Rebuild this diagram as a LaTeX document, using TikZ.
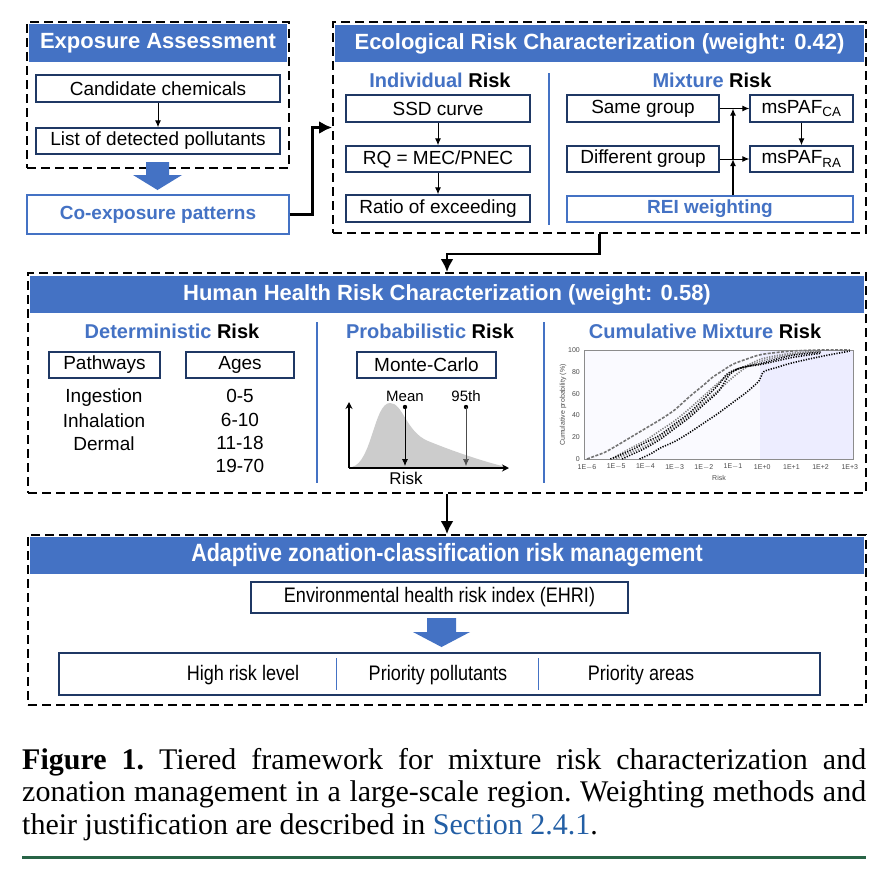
\documentclass[tikz,border=0pt]{standalone}
\usepackage{fontspec}
\setmainfont{Liberation Sans}
\newfontfamily\capfont{Liberation Serif}
\usetikzlibrary{positioning,arrows.meta}
\definecolor{hdblue}{RGB}{68,114,196}
\definecolor{navy}{RGB}{31,56,100}
\definecolor{seclink}{RGB}{35,95,165}
\definecolor{rulegreen}{RGB}{40,100,70}
\newcommand{\condensed}[1]{\scalebox{0.86}[1]{#1}}

\begin{document}
\begin{tikzpicture}[x=1pt,y=-1pt,
  grp/.style={draw, line width=1.8pt, dash pattern=on 9pt off 5pt, inner sep=0pt},
  band/.style={fill=hdblue, text=white, inner sep=0pt, font=\fontsize{22}{26}\selectfont\bfseries},
  cell/.style={draw=navy, line width=1.4pt, fill=white, inner sep=0pt, font=\fontsize{19}{22}\selectfont},
  bcell/.style={draw=hdblue, line width=1.4pt, fill=white, inner sep=0pt, text=hdblue, font=\fontsize{19}{22}\selectfont\bfseries},
  txt/.style={inner sep=0pt, font=\fontsize{19}{22}\selectfont},
  subhd/.style={inner sep=0pt, font=\fontsize{20}{24}\selectfont\bfseries},
  sep/.style={draw=hdblue, line width=1.3pt},
  arr/.style={-{Latex[length=7pt,width=6pt]}, line width=1pt},
  flow/.style={-{Latex[length=13pt,width=13pt]}, line width=2.6pt},
  tick/.style={inner sep=0pt, font=\fontsize{7}{8}\selectfont, text=black!70},
  cdf/.style={line width=1.6pt, dash pattern=on 1.2pt off 1.4pt}
]
\useasboundingbox[fill=white] (0,0) rectangle (893,875);

% exposure assessment
\node[grp, minimum width=262pt, minimum height=146pt] (expbox) at (158,95) {};
\node[band, minimum width=258pt, minimum height=38pt] (exphd) at (158,43) {Exposure Assessment};
\node[cell, minimum width=244pt, minimum height=27pt] (cand) at (158,88.5) {Candidate chemicals};
\node[cell, minimum width=244pt, minimum height=26pt] (list) at (158,141) {List of detected pollutants};
\draw[arr] (cand) -- (list);
\fill[hdblue] (146,162) -- (169,162) -- (169,175) -- (182,175) -- (157.5,190) -- (133,175) -- (146,175) -- cycle;
\node[bcell, minimum width=262pt, minimum height=39pt] (coexp) at (158,214.5) {Co-exposure patterns};

% ecological risk
\node[grp, minimum width=533pt, minimum height=211pt] (ecobox) at (599.5,127.5) {};
\node[band, minimum width=529pt, minimum height=37pt] (ecohd) at (599.5,43.5) {Ecological Risk Characterization (weight: 0.42)};
\draw[sep] (549,73) -- (549,225);
\node[subhd] (indhd) at (440,80) {\textcolor{hdblue}{Individual} Risk};
\node[cell, minimum width=184pt, minimum height=27pt] (ssd) at (438,108.5) {SSD curve};
\node[cell, minimum width=184pt, minimum height=26pt] (rq) at (438,159) {RQ = MEC/PNEC};
\node[cell, minimum width=184pt, minimum height=27pt] (ratio) at (438,208.5) {Ratio of exceeding};
\draw[arr] (ssd) -- (rq);
\draw[arr] (rq) -- (ratio);
\node[subhd] (mixhd) at (712,80) {\textcolor{hdblue}{Mixture} Risk};
\node[cell, minimum width=152pt, minimum height=27pt] (same) at (643,108.5) {Same group};
\node[cell, minimum width=152pt, minimum height=26pt] (diff) at (643,159) {Different group};
\node[cell, minimum width=103pt, minimum height=27pt] (pafca) at (801.5,108.5) {msPAF\textsubscript{CA}};
\node[cell, minimum width=103pt, minimum height=26pt] (pafra) at (801.5,159) {msPAF\textsubscript{RA}};
\node[bcell, minimum width=286pt, minimum height=26pt] (rei) at (710,209) {REI weighting};
\coordinate (j1) at (733,108.5);
\coordinate (j2) at (733,159);
\draw[arr] (same) -- (pafca);
\draw[arr] (diff) -- (pafra);
\draw[arr, line width=1.6pt] (rei.north -| j2) -- (j2);
\draw[arr, line width=1.6pt] (j2) -- (j1);
\draw[arr] (pafca) -- (pafra);
\draw[flow] (coexp.east) -- ++(23,0) |- (ecobox.west);

% human health risk
\node[grp, minimum width=838pt, minimum height=220pt] (hhbox) at (447,383) {};
\node[band, minimum width=834pt, minimum height=37pt] (hhhd) at (447,294.5) {Human Health Risk Characterization (weight: 0.58)};
\draw[flow] (ecobox.south) -- ++(0,20) -| (hhbox.north);
\draw[sep] (317,322) -- (317,483);
\draw[sep] (544,322) -- (544,483);
\node[subhd] (dethd) at (172,331) {\textcolor{hdblue}{Deterministic} Risk};
\node[cell, minimum width=111pt, minimum height=26pt] (path) at (104.5,365) {Pathways};
\node[cell, minimum width=108pt, minimum height=26pt] (ages) at (240,365) {Ages};
\foreach \t [count=\i] in {Ingestion,Inhalation,Dermal}
  \node[txt] (path\i) at (104,374.5+23.2*\i) {\t};
\foreach \t [count=\i] in {0-5,6-10,11-18,19-70}
  \node[txt] (age\i) at (240,373+23.3*\i) {\t};
\node[subhd] (probhd) at (430,331) {\textcolor{hdblue}{Probabilistic} Risk};
\node[cell, minimum width=139pt, minimum height=26pt] (mc) at (426.5,365) {Monte-Carlo};
\fill[black!20] (352,467) .. controls (372,462) and (374,403) .. (390,403)
  .. controls (403,403) and (406,432) .. (428,441) .. controls (455,452) and (482,461) .. (506,467) -- cycle;
\coordinate (orig) at (349,468);
\draw[-{Stealth[length=7pt,width=7pt]}, line width=1.3pt] (orig) -- (349,402);
\draw[-{Stealth[length=7pt,width=7pt]}, line width=1.3pt] (orig) -- (509,468);
\node[inner sep=0pt, font=\fontsize{15}{17}\selectfont] (mean) at (405,396) {Mean};
\node[inner sep=0pt, font=\fontsize{15}{17}\selectfont] (p95) at (466,396) {95th};
\fill (405,407) circle (2.2pt);
\fill (466,407) circle (2.2pt);
\draw[-{Latex[length=7pt,width=6pt]}, line width=0.8pt] (405,407) -- (405,466);
\draw[-{Latex[length=7pt,width=6pt]}, line width=0.6pt, black!70] (466,407) -- (466,466);
\node[inner sep=0pt, font=\fontsize{17}{19}\selectfont] (risklab) at (406,478) {Risk};
\node[subhd] (cumhd) at (705,331) {\textcolor{hdblue}{Cumulative Mixture} Risk};
\fill[blue!2] (584,350) rectangle (760,459);
\fill[blue!7] (760,350) rectangle (853,459);
\draw[black!45, line width=0.6pt] (584,350) rectangle (853,459);
\foreach \v in {0,20,...,100}
  \node[tick, anchor=east] at (580,459-1.09*\v) {\v};
\foreach \e [count=\i from 0] in {1E$-$6,1E$-$5,1E$-$4,1E$-$3,1E$-$2,1E$-$1,1E+0,1E+1,1E+2,1E+3}
  \node[tick] at (587+29.2*\i,467) {\e};
\node[tick] (cumx) at (719,478) {Risk};
\node[tick, rotate=90] (cumy) at (563,405) {Cumulative probability (\%)};
\begin{scope}[shift={(587,459)}, x=29.2pt, y=1.09pt]
  \draw[cdf, black!55, dash pattern=on 3pt off 1.5pt] plot[smooth] coordinates {(0,0) (0.3,3) (0.6,6) (1,12) (1.5,20) (2,28) (2.5,36) (3,45) (3.5,57) (4,68) (4.3,75) (4.7,82) (5,87) (5.5,92) (6,96) (7,99) (8,100) (9,100)};
  \draw[cdf, black!50] plot[smooth] coordinates {(1,0) (1.5,6) (2,12) (2.5,20) (3,30) (3.5,40) (4,52) (4.5,63) (5,75) (5.5,85) (6,90) (7,96) (8,99)};
  \draw[cdf, black!50] plot[smooth] coordinates {(0.9,1) (1.5,10) (2,17) (2.5,26) (3,35) (3.5,46) (4,58) (4.5,70) (5,80) (5.5,86) (6,92) (7,97) (8,99)};
  \draw[cdf] plot[smooth] coordinates {(0.8,0) (1,2) (1.5,8) (2,15) (2.5,22) (3,32) (3.5,42) (4,55) (4.5,68) (4.8,78) (5.2,83) (6,88) (7,95) (8,98)};
  \draw[cdf] plot[smooth] coordinates {(1.2,0) (1.6,5) (2,10) (2.5,18) (3,28) (3.5,38) (4,50) (4.5,62) (4.9,78) (5.3,84) (6,87) (7,93) (8,97)};
  \draw[cdf] plot[smooth] coordinates {(1.8,0) (2.2,5) (2.5,10) (3,16) (3.5,24) (4,33) (4.5,42) (5,52) (5.5,62) (5.9,72) (6.05,80) (6.5,84) (7,88) (8,94) (9,99)};
\end{scope}

% management
\node[grp, minimum width=838pt, minimum height=170pt] (adbox) at (447,620) {};
\node[band, minimum width=834pt, minimum height=37pt] (adhd) at (447,555.5) {\condensed{\fontsize{25}{28}\selectfont Adaptive zonation-classification risk management}};
\draw[flow] (hhbox.south) -- (adbox.north);
\node[cell, minimum width=377pt, minimum height=31pt, font=\fontsize{21}{24}\selectfont] (ehri) at (439.5,597.5) {\condensed{Environmental health risk index (EHRI)}};
\fill[hdblue] (427,618) -- (456,618) -- (456,632) -- (470,632) -- (441.5,647) -- (413,632) -- (427,632) -- cycle;
\node[cell, minimum width=761pt, minimum height=42pt] (levels) at (439.5,674) {};
\draw[sep, line width=1pt] (336,658) -- (336,690);
\draw[sep, line width=1pt] (538,658) -- (538,690);
\node[txt, font=\fontsize{21}{24}\selectfont] (high) at (243,675) {\condensed{High risk level}};
\node[txt, font=\fontsize{21}{24}\selectfont] (ppoll) at (438,675) {\condensed{Priority pollutants}};
\node[txt, font=\fontsize{21}{24}\selectfont] (parea) at (641,675) {\condensed{Priority areas}};

% caption
\node[anchor=north west, inner sep=0pt, text width=844pt, align=justify,
  font=\capfont\fontsize{30}{32.5}\selectfont\frenchspacing] (caption) at (22,748)
  {\textbf{Figure 1.} Tiered framework for mixture risk characterization and\linebreak
   zonation management in a large-scale region. Weighting methods and\linebreak
   their justification are described in \textcolor{seclink}{Section 2.4.1}.};
\draw[rulegreen, line width=3pt] (22,857) -- (866,857);
\end{tikzpicture}
\end{document}
